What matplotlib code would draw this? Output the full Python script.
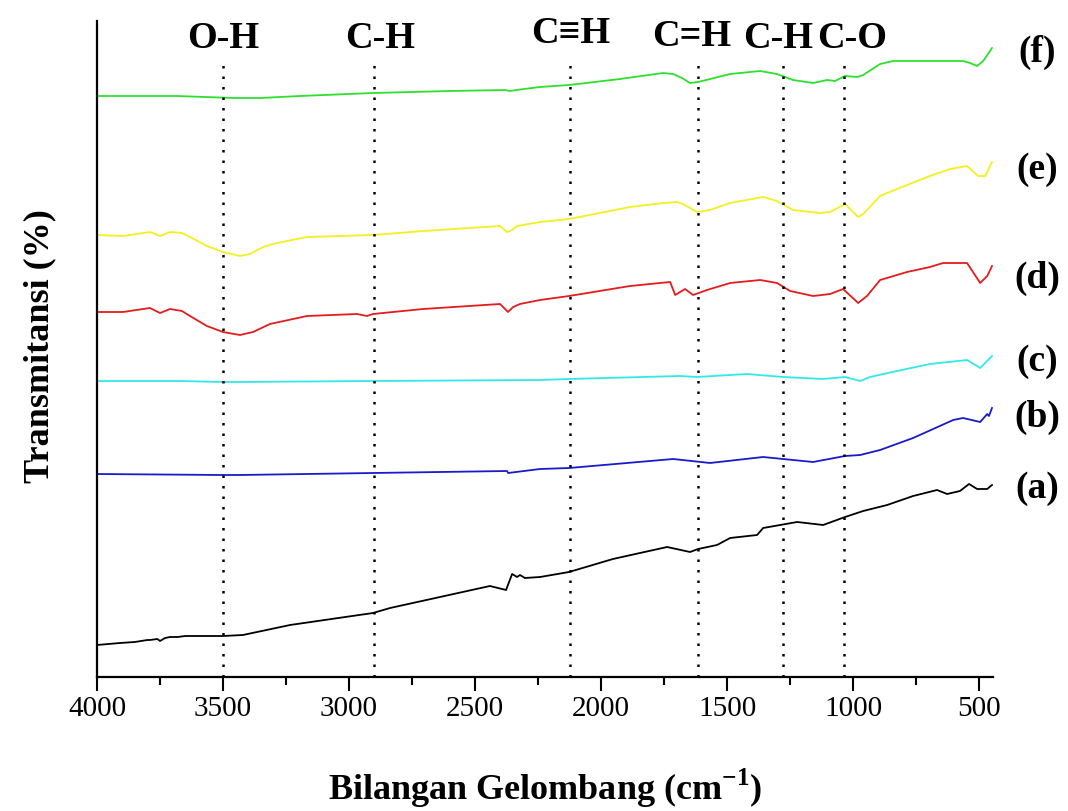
import matplotlib
matplotlib.use('Agg')
import matplotlib.pyplot as plt
from matplotlib.ticker import MultipleLocator

plt.rcParams['font.family'] = ['Liberation Serif', 'DejaVu Serif']
plt.rcParams['mathtext.fontset'] = 'custom'
plt.rcParams['mathtext.rm'] = 'Liberation Serif'
plt.rcParams['mathtext.bf'] = 'Liberation Serif:bold'

# spektrum FTIR (nilai transmitansi dalam satuan relatif, sudah digeser per sampel)
wn_a = [4000, 3909, 3850, 3800, 3790, 3760, 3750, 3730, 3710, 3680, 3650, 3500, 3421, 3234,
        2905, 2837, 2441, 2377, 2353, 2333, 2322, 2302, 2242, 2127, 1953, 1738, 1647, 1615,
        1540, 1488, 1381, 1357, 1222, 1119, 1032, 960, 865, 762, 667, 627, 576, 540, 508,
        468, 449]
t_a = [32, 34, 35, 37, 37, 38, 36, 39, 40, 40, 41, 41, 42, 52,
       64, 69, 91, 87, 103, 100, 102, 99, 100, 105, 118, 130, 125, 128,
       132, 139, 142, 149, 155, 152, 160, 166, 172, 181, 187, 183, 186, 193, 188,
       188, 192]

wn_b = [4000, 3500, 3433, 2905, 2373, 2369, 2242, 2127, 1714, 1568, 1357, 1159, 1032, 972,
        893, 762, 603, 564, 496, 468, 461, 449]
t_b = [203, 202, 202, 204, 206, 204, 208, 209, 218, 214, 220, 215, 221, 222,
       227, 239, 257, 259, 255, 263, 261, 269]

wn_c = [4000, 3671, 3500, 3444, 2905, 2242, 2127, 1687, 1619, 1421, 1278, 1119, 1032, 972,
        933, 826, 695, 548, 496, 449]
t_c = [296, 296, 295, 295, 296, 297, 298, 301, 300, 303, 300, 298, 300, 296,
       300, 306, 313, 317, 309, 321]

wn_d = [4000, 3897, 3790, 3750, 3710, 3663, 3631, 3564, 3500, 3433, 3381, 3314, 3167, 2968,
        2929, 2905, 2706, 2401, 2369, 2349, 2322, 2242, 2127, 1885, 1726, 1706, 1667, 1635,
        1580, 1488, 1369, 1302, 1250, 1159, 1091, 1040, 980, 945, 893, 786, 695, 643, 548,
        496, 468, 449]
t_d = [365, 365, 369, 364, 368, 366, 361, 351, 345, 342, 345, 353, 361, 363,
       361, 363, 368, 373, 365, 370, 373, 377, 381, 391, 395, 382, 388, 382,
       387, 394, 397, 394, 386, 381, 383, 388, 374, 381, 397, 405, 410, 414, 414,
       394, 401, 411]

wn_e = [4000, 3897, 3790, 3750, 3710, 3663, 3631, 3564, 3500, 3433, 3393, 3341, 3286, 3167,
        2905, 2706, 2401, 2373, 2353, 2333, 2242, 2127, 1885, 1754, 1698, 1675, 1619, 1568,
        1488, 1357, 1302, 1238, 1131, 1091, 1032, 980, 960, 893, 826, 695, 615, 548, 504,
        476, 449]
t_e = [442, 441, 445, 441, 445, 444, 440, 431, 425, 421, 423, 430, 434, 440,
       442, 446, 451, 445, 447, 451, 455, 458, 470, 474, 475, 473, 465, 467,
       474, 480, 476, 467, 464, 465, 473, 460, 463, 481, 488, 501, 508, 511, 501,
       501, 515]

wn_f = [4000, 3683, 3571, 3452, 3353, 3194, 2905, 2599, 2381, 2361, 2337, 2242, 2127, 1925,
        1754, 1714, 1679, 1647, 1615, 1488, 1369, 1302, 1238, 1159, 1103, 1072, 1032, 984,
        960, 893, 841, 695, 564, 536, 508, 484, 449]
t_f = [581, 581, 580, 579, 579, 581, 584, 586, 587, 586, 587, 590, 592, 598,
       604, 603, 599, 594, 595, 603, 606, 603, 597, 594, 597, 596, 601, 600,
       602, 613, 616, 616, 616, 614, 611, 616, 629]

series = [
    ('(a)', wn_a, t_a, 'black', 189),
    ('(b)', wn_b, t_b, '#1a1acc', 261),
    ('(c)', wn_c, t_c, '#33e8e8', 316),
    ('(d)', wn_d, t_d, '#e41c1c', 400),
    ('(e)', wn_e, t_e, '#f4f020', 508),
    ('(f)', wn_f, t_f, '#2ee02e', 626),
]

# gugus fungsi: label, posisi garis, posisi label, baseline label
gugus = ['O-H', 'C-H', 'C≡H', 'C=H', 'C-H', 'C-O']
gugus_x = [3500, 2900, 2125, 1615, 1280, 1035]
gugus_lbl_x = [3500, 2877, 2119, 1639, 1298, 1004]
gugus_lbl_y = [630, 630, 635, 632, 630, 630]

fig = plt.figure(figsize=(10.68, 8.12), dpi=100)
ax = fig.add_axes([97 / 1068, 1 - 678 / 812, 896 / 1068, 656 / 812])

for nama, x, y, warna, ylab in series:
    ax.plot(x, y, color=warna, lw=1.3)
    ax.text(270, ylab, nama, ha='center', va='center', fontsize=27,
            fontweight='bold', clip_on=False)

ax.vlines(gugus_x, 0, 615, colors='black', linestyles=(0, (1, 3.2)), lw=1.8)
for g, gx, gy in zip(gugus, gugus_lbl_x, gugus_lbl_y):
    ax.text(gx, gy, g, ha='center', va='baseline', fontsize=27.5, fontweight='bold')

ax.set_xlim(4000, 445)
ax.set_ylim(0, 656)
ax.xaxis.set_major_locator(MultipleLocator(500))
ax.xaxis.set_minor_locator(MultipleLocator(250))
ax.set_yticks([])
ax.spines['top'].set_visible(False)
ax.spines['right'].set_visible(False)
ax.spines['left'].set_linewidth(1.6)
ax.spines['bottom'].set_linewidth(1.6)
ax.tick_params(axis='x', which='major', length=10, width=1.5, labelsize=21, pad=3)
ax.tick_params(axis='x', which='minor', length=6, width=1.5)

fig.text(545 / 1068, 1 - 788 / 812, r'Bilangan Gelombang (cm$^{\mathbf{-1}}$)',
         ha='center', va='center', fontsize=26, fontweight='bold')
fig.text(40 / 1068, 1 - 346 / 812, 'Transmitansi (%)', ha='center', va='center',
         rotation=90, fontsize=26, fontweight='bold')

fig.savefig('out.png', dpi=100)
